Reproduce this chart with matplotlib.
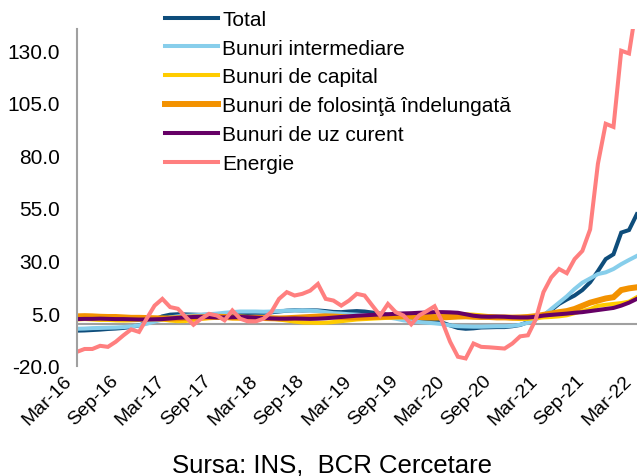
import numpy as np
import matplotlib.pyplot as plt
import matplotlib.transforms as mtransforms

plt.rcParams['font.family'] = ['Liberation Sans', 'DejaVu Sans']

# monthly, Mar-16 .. Mar-22
tick_labels = ['Mar-16', 'Sep-16', 'Mar-17', 'Sep-17', 'Mar-18', 'Sep-18', 'Mar-19',
               'Sep-19', 'Mar-20', 'Sep-20', 'Mar-21', 'Sep-21', 'Mar-22']

total = [-3.3, -3.2, -3.0, -2.8, -2.5, -2.3, -2.0, -1.5, -0.8, 0.5,
         2.0, 3.5, 4.3, 4.5, 4.4, 4.3, 4.2, 4.3, 4.4, 4.6,
         4.8, 5.0, 5.1, 5.2, 5.2, 5.4, 5.8, 6.2, 6.4, 6.3,
         6.4, 6.3, 6.0, 5.6, 5.5, 5.8, 6.0, 5.8, 5.3, 4.8,
         4.2, 3.8, 3.3, 2.8, 2.4, 1.8, 1.2, 0.5, -0.8, -2.0,
         -2.4, -2.2, -1.8, -1.7, -1.6, -1.6, -1.2, -0.6, 0.8, 2.5,
         3.9, 6.5, 9.4, 11.5, 13.4, 16.0, 19.7, 25.0, 30.7, 33.0,
         43.3, 44.5, 52.0]

intermediare = [-2.4, -2.3, -2.1, -2.0, -1.9, -1.8, -1.6, -1.3, -0.8, 0.0,
                1.0, 2.0, 3.0, 3.5, 3.8, 4.0, 4.2, 4.5, 4.8, 5.2,
                5.5, 5.8, 5.8, 5.8, 5.7, 5.8, 6.0, 6.2, 6.3, 6.3,
                6.3, 6.0, 5.5, 5.0, 4.8, 4.5, 4.3, 4.0, 3.8, 3.5,
                3.0, 2.4, 1.6, 1.2, 0.8, 0.5, 0.2, -0.2, -0.8, -1.2,
                -1.3, -1.4, -1.4, -1.3, -1.2, -1.2, -1.0, -0.5, 0.5, 2.0,
                3.9, 7.0, 10.0, 13.0, 16.5, 19.5, 21.5, 23.6, 24.4, 26.0,
                28.3, 30.3, 32.2]

capital = [2.0, 2.2, 2.0, 1.8, 1.8, 1.6, 1.5, 1.6, 1.8, 2.0,
           2.2, 2.0, 1.5, 1.2, 1.3, 1.8, 2.3, 2.6, 2.8, 2.8,
           2.5, 2.4, 2.6, 2.8, 2.9, 2.5, 2.0, 1.5, 1.0, 0.6,
           0.5, 0.4, 0.5, 0.8, 1.2, 1.6, 2.0, 2.2, 2.4, 2.6,
           2.8, 3.0, 3.0, 3.2, 3.5, 3.8, 4.2, 4.5, 4.6, 4.7,
           4.5, 4.3, 4.0, 3.6, 3.2, 2.8, 2.5, 2.2, 2.3, 2.6,
           3.0, 3.2, 3.5, 4.0, 5.0, 6.0, 7.0, 8.5, 9.0, 9.4,
           9.8, 10.5, 12.6]

folosinta = [3.5, 3.6, 3.5, 3.3, 3.2, 3.2, 3.0, 2.8, 2.8, 2.7,
             2.6, 2.5, 2.5, 2.6, 2.8, 3.0, 3.0, 3.2, 3.3, 3.2,
             3.0, 3.0, 2.8, 2.8, 2.7, 2.6, 2.5, 2.6, 2.8, 3.0,
             3.2, 3.4, 3.5, 3.4, 3.2, 3.0, 3.0, 3.1, 3.2, 3.3,
             3.4, 3.5, 3.6, 3.4, 3.2, 3.0, 2.9, 3.0, 3.2, 3.4,
             3.5, 3.3, 3.2, 3.2, 3.0, 3.0, 2.9, 3.0, 3.2, 3.6,
             4.2, 4.8, 5.5, 6.0, 7.0, 8.5, 10.0, 11.0, 12.0, 12.6,
             16.0, 16.8, 17.3]

uz_curent = [2.2, 2.3, 2.3, 2.4, 2.3, 2.2, 2.2, 2.1, 2.0, 2.0,
             2.1, 2.2, 2.5, 2.8, 3.0, 3.2, 3.3, 3.2, 3.0, 3.0,
             3.1, 3.2, 3.1, 2.9, 2.7, 2.5, 2.4, 2.4, 2.5, 2.4,
             2.3, 2.4, 2.6, 2.9, 3.2, 3.5, 3.8, 4.0, 4.2, 4.4,
             4.5, 4.7, 4.9, 5.0, 5.2, 5.3, 5.5, 5.5, 5.4, 5.2,
             4.5, 3.8, 3.4, 3.3, 3.4, 3.3, 3.1, 3.0, 3.0, 3.3,
             3.9, 4.2, 4.5, 4.8, 5.2, 5.5, 6.0, 6.5, 7.0, 7.5,
             8.6, 10.0, 11.8]

energie = [-13.4, -12.0, -12.0, -10.5, -11.0, -8.6, -5.5, -2.7, -3.9, 2.5,
           8.6, 11.8, 7.9, 7.1, 3.2, -0.5, 2.4, 4.7, 3.9, 1.6,
           6.3, 2.4, 1.1, 1.1, 2.4, 5.5, 11.8, 15.0, 13.4, 14.2,
           15.7, 18.9, 11.8, 11.0, 8.6, 11.0, 14.2, 13.4, 8.6, 3.9,
           9.4, 5.5, 3.9, -0.3, 3.9, 6.0, 8.3, 0.8, -8.6, -15.7,
           -16.5, -9.4, -11.0, -11.2, -11.5, -11.8, -9.4, -6.0, -5.5, 2.0,
           15.0, 22.0, 26.0, 24.0, 30.7, 34.6, 44.8, 76.0, 95.0, 93.5,
           129.7, 128.4, 152.0]

series = [
    ('Total', total, '#0E4D7B', 2.9),
    ('Bunuri intermediare', intermediare, '#87CEEB', 2.9),
    ('Bunuri de capital', capital, '#FFCC00', 2.9),
    ('Bunuri de folosinţă îndelungată', folosinta, '#F39200', 4.3),
    ('Bunuri de uz curent', uz_curent, '#660066', 2.9),
    ('Energie', energie, '#FF7F7F', 2.9),
]

x = np.arange(len(total))

fig = plt.figure(figsize=(6.4, 4.77), dpi=100)
ax = fig.add_axes([0.120, 0.231, 0.875, 0.706])

for name, vals, color, lw in series:
    ax.plot(x, vals, color=color, lw=lw, label=name, solid_joinstyle='miter')

ax.axhline(0, color='#A0A0A0', lw=1.5, zorder=1)

ax.set_xlim(0, len(total) - 1)
ax.set_ylim(-20, 140)
yt = np.arange(-20, 131, 25)
ax.set_yticks(yt)
ax.set_yticklabels(['%.1f' % v for v in yt], fontsize=15)
ax.set_xticks(x[::6])
ax.set_xticklabels([])
ax.tick_params(axis='both', length=0)
ax.tick_params(axis='y', pad=12)

# rotated month labels, nudged left so the last one stays inside the figure
base = mtransforms.blended_transform_factory(ax.transData, ax.transAxes)
nudge = mtransforms.ScaledTranslation(-0.08, -0.12, fig.dpi_scale_trans)
for xi, lab in zip(x[::6], tick_labels):
    ax.text(xi, 0, lab, transform=base + nudge, rotation=45, rotation_mode='anchor',
            ha='right', va='center', fontsize=14, clip_on=False)

for s in ['top', 'right', 'bottom']:
    ax.spines[s].set_visible(False)
ax.spines['left'].set_color('#A0A0A0')
ax.spines['left'].set_linewidth(1.5)

ax.legend(loc='upper left', bbox_to_anchor=(0.157, 1.057), frameon=False,
          fontsize=15, handlelength=2.55, handletextpad=0.2,
          labelspacing=0.47, borderaxespad=0, borderpad=0)

fig.text(0.518, 0.025, 'Sursa: INS,  BCR Cercetare', ha='center', va='center', fontsize=18.5)

fig.savefig('out.png', dpi=100)
